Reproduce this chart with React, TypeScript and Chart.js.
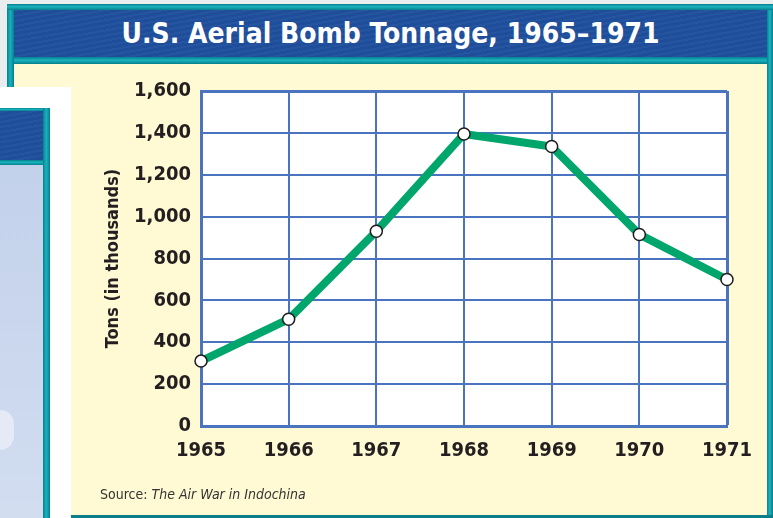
import React, { useEffect, useRef } from 'react';
import { Chart, registerables } from 'chart.js';

Chart.register(...registerables);

// ---- data ----
const years: string[] = ['1965', '1966', '1967', '1968', '1969', '1970', '1971'];
const tonnage: number[] = [310, 510, 930, 1395, 1335, 915, 700];
const yMin = 0;
const yMax = 1600;
const yStep = 200;

const TITLE = 'U.S. Aerial Bomb Tonnage, 1965\u20131971';
const Y_TITLE = 'Tons (in thousands)';

const FONT = '"Liberation Sans Narrow", "DejaVu Sans Condensed", "Roboto Condensed", "Arial Narrow", sans-serif';
const GRID_BLUE = '#4a74c0';
const LINE_GREEN = '#00a66b';
const TEAL = '#0a98a6';
const BAND_BLUE = '#1f4f9d';
const CREAM = '#fff9d4';
const TEXT = '#231f20';

const plotBg = {
  id: 'plotBg',
  beforeDraw(chart: any) {
    const { ctx, chartArea } = chart;
    if (!chartArea) return;
    ctx.save();
    ctx.fillStyle = '#ffffff';
    ctx.fillRect(chartArea.left, chartArea.top, chartArea.right - chartArea.left, chartArea.bottom - chartArea.top);
    ctx.restore();
  },
};

function ChartCanvas() {
  const ref = useRef<HTMLCanvasElement | null>(null);
  useEffect(() => {
    if (!ref.current) return;
    const lastX = years.length - 1;
    const lastY = Math.round((yMax - yMin) / yStep);
    const chart = new Chart(ref.current, {
      type: 'line',
      data: {
        labels: years,
        datasets: [
          {
            data: tonnage,
            borderColor: LINE_GREEN,
            borderWidth: 8,
            tension: 0,
            pointRadius: 6,
            pointHoverRadius: 6,
            pointBackgroundColor: '#ffffff',
            pointBorderColor: '#1d1d1d',
            pointBorderWidth: 1.5,
            clip: false as any,
          },
        ],
      },
      options: {
        responsive: false,
        animation: false,
        events: [],
        layout: { padding: { top: 27, right: 40, bottom: 0, left: 0 } },
        plugins: {
          legend: { display: false },
          tooltip: { enabled: false },
          title: { display: false },
        },
        scales: {
          x: {
            type: 'category',
            offset: false,
            grid: {
              color: GRID_BLUE,
              lineWidth: (c: any) => (c.index === lastX ? 3 : 2),
              drawTicks: false,
            },
            border: { display: true, color: GRID_BLUE, width: 3 },
            ticks: {
              padding: 13,
              color: TEXT,
              maxRotation: 0,
              autoSkip: false,
              font: { family: FONT, size: 20, weight: 'bold' },
            },
            afterFit: (s: any) => {
              s.height = 89;
            },
          },
          y: {
            min: yMin,
            max: yMax,
            grid: {
              color: GRID_BLUE,
              lineWidth: (c: any) => (c.index === lastY ? 3 : 2),
              drawTicks: false,
            },
            border: { display: true, color: GRID_BLUE, width: 3 },
            ticks: {
              stepSize: yStep,
              padding: 10,
              color: TEXT,
              font: { family: FONT, size: 20, weight: 'bold' },
              callback: (v: any) => Number(v).toLocaleString('en-US'),
            },
            title: {
              display: true,
              text: Y_TITLE,
              color: TEXT,
              font: { family: FONT, size: 18, weight: 'bold' },
              padding: { top: 32, bottom: 0 },
            },
            afterFit: (s: any) => {
              s.width = 130;
            },
          },
        },
      },
      plugins: [plotBg],
    });
    return () => chart.destroy();
  }, []);
  return (
    <canvas
      ref={ref}
      width={696}
      height={451}
      style={{ position: 'absolute', left: 71, top: 64, width: 696, height: 451 }}
    />
  );
}

export default function App() {
  const tealV = `linear-gradient(to right, #067f8c, #19b3bf 45%, #067f8c)`;
  const tealH = `linear-gradient(to bottom, #067f8c, #19b3bf 45%, #067f8c)`;
  const bandTexture = `repeating-linear-gradient(170deg, rgba(255,255,255,0.03) 0 2px, rgba(0,0,0,0.025) 2px 5px), ${BAND_BLUE}`;
  return (
    <div style={{ position: 'fixed', left: 0, top: 0, width: 773, height: 518, overflow: 'hidden', background: '#e9eded' }}>
      {/* main frame */}
      <div style={{ position: 'absolute', left: 7, top: 4, width: 766, height: 514, background: TEAL }} />
      <div style={{ position: 'absolute', left: 7, top: 4, width: 7, height: 514, background: tealV }} />
      <div style={{ position: 'absolute', left: 767, top: 4, width: 6, height: 514, background: tealV }} />
      <div style={{ position: 'absolute', left: 7, top: 4, width: 766, height: 6, background: tealH }} />
      <div style={{ position: 'absolute', left: 14, top: 10, width: 753, height: 47, background: bandTexture }} />
      <div style={{ position: 'absolute', left: 14, top: 57, width: 753, height: 7, background: tealH }} />
      <div style={{ position: 'absolute', left: 14, top: 64, width: 753, height: 451, background: CREAM }} />
      <div style={{ position: 'absolute', left: 7, top: 515, width: 766, height: 3, background: '#0a7f8a' }} />
      {/* title */}
      <div
        style={{
          position: 'absolute',
          left: 14,
          top: 10,
          width: 753,
          height: 47,
          display: 'flex',
          alignItems: 'center',
          justifyContent: 'center',
          color: '#ffffff',
          fontFamily: FONT,
          fontWeight: 'bold',
          fontSize: 28,
          lineHeight: 1,
        }}
      >
        {TITLE}
      </div>
      {/* overlapping page panel on the left */}
      <div style={{ position: 'absolute', left: 0, top: 87, width: 71, height: 431, background: '#ffffff' }} />
      <div style={{ position: 'absolute', left: 0, top: 108, width: 43, height: 410, background: 'linear-gradient(to bottom, #c0cfea, #d2ddf0)' }} />
      <div style={{ position: 'absolute', left: 0, top: 108, width: 50, height: 3, background: tealH }} />
      <div style={{ position: 'absolute', left: 0, top: 111, width: 43, height: 49, background: bandTexture }} />
      <div style={{ position: 'absolute', left: 0, top: 160, width: 43, height: 5, background: tealH }} />
      <div style={{ position: 'absolute', left: 43, top: 108, width: 7, height: 410, background: tealV }} />
      <div style={{ position: 'absolute', left: -14, top: 410, width: 28, height: 40, borderRadius: 14, background: '#e5eaf6' }} />
      {/* chart */}
      <ChartCanvas />
      {/* source */}
      <div
        style={{
          position: 'absolute',
          left: 100,
          top: 486,
          color: '#333333',
          fontFamily: FONT,
          fontSize: 14,
          lineHeight: '17px',
          whiteSpace: 'nowrap',
        }}
      >
        Source: <i>The Air War in Indochina</i>
      </div>
    </div>
  );
}
